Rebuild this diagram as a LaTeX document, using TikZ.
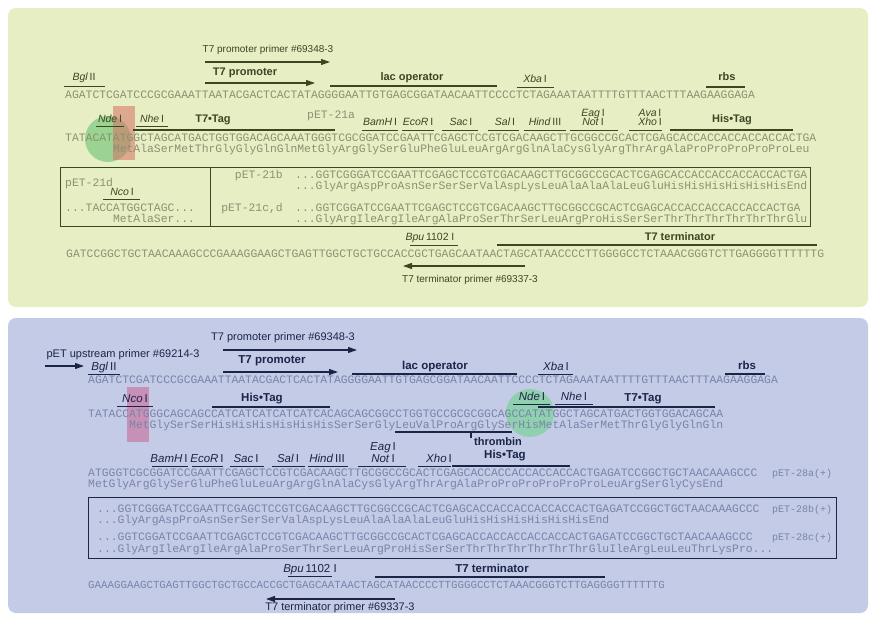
\documentclass[tikz,border=0pt]{standalone}
\usepackage{fontspec}
\setmainfont{Liberation Sans}
\newfontfamily\seqmono{Liberation Mono}
\usetikzlibrary{arrows.meta}
\definecolor{ubg}{HTML}{E8EEC4}
\definecolor{uink}{HTML}{3B4622}
\definecolor{useq}{HTML}{8A9170}
\definecolor{lbg}{HTML}{C4CBE6}
\definecolor{link}{HTML}{1C2448}
\definecolor{lseq}{HTML}{7A84AA}
\definecolor{pinkA}{HTML}{D46F63}
\definecolor{pinkB}{HTML}{C8578A}
\definecolor{mintA}{HTML}{5DBF6A}
\definecolor{mintB}{HTML}{6CD48A}
\newcommand{\seqsize}{\seqmono\fontsize{11.38}{12}\selectfont}
\newcommand{\enzy}[2]{\textit{#1}\,#2}

\begin{document}
\begin{tikzpicture}[x=1pt, y=-1pt,
  seq/.style={font=\seqsize, anchor=mid west, inner sep=0pt},
  lab/.style={font=\fontsize{10}{12}\selectfont, anchor=mid, inner sep=0pt},
  tag/.style={font=\fontsize{11}{13}\selectfont\bfseries, anchor=mid, inner sep=0pt},
  enz/.style={font=\fontsize{10.5}{12}\selectfont, anchor=mid, inner sep=0pt},
  feat/.style={line width=1.6pt},
  cut/.style={line width=0.9pt},
  primer/.style={line width=1.1pt, -{Triangle[length=9pt, width=6pt]}}]

\useasboundingbox (0,0) rectangle (870,621);

% Panels
\fill[ubg, rounded corners=8pt] (8,8) rectangle (868,307);
\fill[lbg, rounded corners=8pt] (8,318) rectangle (868,613);

% ============================================================
% Upper panel: pET-21
% ============================================================
\def\ux{65}
\def\cw{6.83}

% start codon highlights
\fill[mintA, opacity=0.55] (108,139) circle[radius=23pt];
\fill[pinkA, opacity=0.55] (113,106) rectangle (135,160);

% row 1
\node[lab, text=uink] (uprim) at (268,50) {T7 promoter primer \#69348-3};
\draw[primer, uink] (205,62) -- (330,62);
\node[tag, text=uink] (uprom) at (245,73) {T7 promoter};
\draw[primer, uink] (205,83) -- (315,83);
\node[enz, text=uink] (ubgl) at (84,78) {\enzy{Bgl}{II}};
\draw[cut, uink] (64,86) -- (105,86);
\node[tag, text=uink] (ulac) at (412,78) {lac operator};
\draw[feat, uink] (330,86) -- (497,86);
\node[enz, text=uink] (uxba) at (535,80) {\enzy{Xba}{I}};
\draw[cut, uink] (517,87) -- (554,87);
\node[tag, text=uink] (urbs) at (727,78) {rbs};
\draw[feat, uink] (706,87) -- (745,87);
\node[seq, text=useq] (us1) at (\ux,96) {AGATCTCGATCCCGCGAAATTAATACGACTCACTATAGGGGAATTGTGAGCGGATAACAATTCCCCTCTAGAAATAATTTTGTTTAACTTTAAGAAGGAGA};

% row 2
\node[enz, text=uink] (unde) at (110,120) {\enzy{Nde}{I}};
\draw[cut, uink] (96,126) -- (124,126);
\node[enz, text=uink] (unhe) at (152,120) {\enzy{Nhe}{I}};
\draw[cut, uink] (136,126) -- (168,126);
\node[tag, text=uink] (ut7) at (213,120) {T7•Tag};
\draw[feat, uink] (133,130) -- (335,130);
\node[seq, text=useq] (u21a) at (307,116) {pET-21a};
\foreach \id/\nm/\xc/\xa/\xb in {bam/{\enzy{BamH}{I}}/380/362/398, eco/{\enzy{EcoR}{I}}/418/402/434,
    sac/{\enzy{Sac}{I}}/461/442/478, sal/{\enzy{Sal}{I}}/505/488/519, hind/{\enzy{Hind}{III}}/545/524/566} {
  \node[enz, text=uink] (u\id) at (\xc,123) {\nm};
  \draw[cut, uink] (\xa,130) -- (\xb,130);
}
\node[enz, text=uink] (ueag) at (593,114) {\enzy{Eag}{I}};
\node[enz, text=uink] (unot) at (593,123) {\enzy{Not}{I}};
\draw[cut, uink] (570,130) -- (618,130);
\node[enz, text=uink] (uava) at (650,114) {\enzy{Ava}{I}};
\node[enz, text=uink] (uxho) at (650,123) {\enzy{Xho}{I}};
\draw[cut, uink] (629,130) -- (662,130);
\node[tag, text=uink] (uhis) at (732,120) {His•Tag};
\draw[feat, uink] (670,130) -- (793,130);
\node[seq, text=useq] (us2) at (\ux,139) {TATACATATGGCTAGCATGACTGGTGGACAGCAAATGGGTCGCGGATCCGAATTCGAGCTCCGTCGACAAGCTTGCGGCCGCACTCGAGCACCACCACCACCACCACTGA};
\node[seq, text=useq] (up2) at ({\ux+7*\cw},150) {MetAlaSerMetThrGlyGlyGlnGlnMetGlyArgGlySerGluPheGluLeuArgArgGlnAlaCysGlyArgThrArgAlaProProProProProLeu};

% variants box
\draw[uink, line width=1pt] (60,167) rectangle (810,226);
\draw[uink, line width=1pt] (210,167) -- (210,226);
\node[seq, text=useq] (u21d) at (65,184) {pET-21d};
\node[enz, text=uink] (unco) at (122,193) {\enzy{Nco}{I}};
\draw[cut, uink] (103,199) -- (140,199);
\node[seq, text=useq] (uds) at (65,209) {...TACCATGGCTAGC...};
\node[seq, text=useq] (udp) at ({65+7*\cw},220) {MetAlaSer...};
\node[seq, text=useq, anchor=mid east] (u21b) at (283,176) {pET-21b};
\node[seq, text=useq] (ubs) at (295,176) {...GGTCGGGATCCGAATTCGAGCTCCGTCGACAAGCTTGCGGCCGCACTCGAGCACCACCACCACCACCACTGA};
\node[seq, text=useq] (ubp) at (295,187) {...GlyArgAspProAsnSerSerSerValAspLysLeuAlaAlaAlaLeuGluHisHisHisHisHisHisEnd};
\node[seq, text=useq, anchor=mid east] (u21c) at (283,209) {pET-21c,d};
\node[seq, text=useq] (ucs) at (295,209) {...GGTCGGATCCGAATTCGAGCTCCGTCGACAAGCTTGCGGCCGCACTCGAGCACCACCACCACCACCACTGA};
\node[seq, text=useq] (ucp) at (295,220) {...GlyArgIleArgIleArgAlaProSerThrSerLeuArgProHisSerSerThrThrThrThrThrThrGlu};

% row 3
\node[enz, text=uink] (ubpu) at (430,238) {\enzy{Bpu}{1102 I}};
\draw[cut, uink] (410,245) -- (458,245);
\node[tag, text=uink] (uterm) at (680,238) {T7 terminator};
\draw[feat, uink] (497,245) -- (817,245);
\node[seq, text=useq] (us3) at (66,255) {GATCCGGCTGCTAACAAAGCCCGAAAGGAAGCTGAGTTGGCTGCTGCCACCGCTGAGCAATAACTAGCATAACCCCTTGGGGCCTCTAAACGGGTCTTGAGGGGTTTTTTG};
\draw[primer, uink] (525,266) -- (403,266);
\node[lab, text=uink] (utprim) at (470,280) {T7 terminator primer \#69337-3};

% ============================================================
% Lower panel: pET-28
% ============================================================
\def\lx{88}

% start codon highlights
\fill[mintB, opacity=0.6] (530,413) circle[radius=24pt];
\fill[pinkB, opacity=0.5] (127,387) rectangle (149,442);

% row 1
\node[lab, text=link, font=\fontsize{11}{13}\selectfont] (lprim) at (283,338) {T7 promoter primer \#69348-3};
\draw[primer, link] (223,350) -- (357,350);
\node[lab, text=link, font=\fontsize{11}{13}\selectfont] (lup) at (123,355) {pET upstream primer \#69214-3};
\draw[primer, link] (45,366) -- (84,366);
\node[tag, text=link, font=\fontsize{11.5}{13}\selectfont\bfseries] (lprom) at (272,361) {T7 promoter};
\draw[primer, link] (223,372) -- (338,372);
\node[enz, text=link, font=\fontsize{11.5}{13}\selectfont] (lbgl) at (104,368) {\enzy{Bgl}{II}};
\draw[cut, link] (88,374) -- (120,374);
\node[tag, text=link, font=\fontsize{11.5}{13}\selectfont\bfseries] (llac) at (435,367) {lac operator};
\draw[feat, link] (352,374) -- (517,374);
\node[enz, text=link, font=\fontsize{11.5}{13}\selectfont] (lxba) at (556,368) {\enzy{Xba}{I}};
\draw[cut, link] (538,374) -- (573,374);
\node[tag, text=link, font=\fontsize{11.5}{13}\selectfont\bfseries] (lrbs) at (747,367) {rbs};
\draw[feat, link] (725,374) -- (765,374);
\node[seq, text=lseq] (ls1) at (\lx,381) {AGATCTCGATCCCGCGAAATTAATACGACTCACTATAGGGGAATTGTGAGCGGATAACAATTCCCCTCTAGAAATAATTTTGTTTAACTTTAAGAAGGAGA};

% row 2
\node[enz, text=link, font=\fontsize{11.5}{13}\selectfont] (lnco) at (135,400) {\enzy{Nco}{I}};
\draw[cut, link] (117,406) -- (153,406);
\node[tag, text=link, font=\fontsize{11.5}{13}\selectfont\bfseries] (lhis1) at (262,399) {His•Tag};
\draw[feat, link] (212,407) -- (330,407);
\node[enz, text=link, font=\fontsize{11.5}{13}\selectfont] (lnde) at (532,398) {\enzy{Nde}{I}};
\draw[cut, link] (513,404) -- (550,404);
\node[enz, text=link, font=\fontsize{11.5}{13}\selectfont] (lnhe) at (574,398) {\enzy{Nhe}{I}};
\draw[cut, link] (555,404) -- (593,404);
\node[tag, text=link, font=\fontsize{11.5}{13}\selectfont\bfseries] (lt7) at (643,399) {T7•Tag};
\draw[feat, link] (538,407) -- (715,407);
\node[seq, text=lseq] (ls2) at (\lx,415) {TATACCATGGGCAGCAGCCATCATCATCATCATCACAGCAGCGGCCTGGTGCCGCGCGGCAGCCATATGGCTAGCATGACTGGTGGACAGCAA};
\node[seq, text=lseq] (lp2) at ({\lx+6*\cw},426) {MetGlySerSerHisHisHisHisHisHisSerSerGlyLeuValProArgGlySerHisMetAlaSerMetThrGlyGlyGlnGln};
\draw[feat, link] (395,432) -- (512,432);
\draw[feat, link] (471,432) -- (471,438);
\node[tag, text=link, anchor=mid west] (lthr) at (474,443) {thrombin};

% row 3
\foreach \id/\nm/\xc/\xa/\xb in {bam/{\enzy{BamH}{I}}/169/152/188, eco/{\enzy{EcoR}{I}}/207/192/223,
    sac/{\enzy{Sac}{I}}/246/230/264, sal/{\enzy{Sal}{I}}/288/272/305, hind/{\enzy{Hind}{III}}/327/308/348} {
  \node[enz, text=link, font=\fontsize{11.5}{13}\selectfont] (l\id) at (\xc,460) {\nm};
  \draw[cut, link] (\xa,466) -- (\xb,466);
}
\node[enz, text=link, font=\fontsize{11.5}{13}\selectfont] (leag) at (383,448) {\enzy{Eag}{I}};
\node[enz, text=link, font=\fontsize{11.5}{13}\selectfont] (lnot) at (383,460) {\enzy{Not}{I}};
\draw[cut, link] (358,466) -- (406,466);
\node[enz, text=link, font=\fontsize{11.5}{13}\selectfont] (lxho) at (439,460) {\enzy{Xho}{I}};
\draw[cut, link] (418,466) -- (451,466);
\node[tag, text=link, font=\fontsize{11.5}{13}\selectfont\bfseries] (lhis2) at (505,456) {His•Tag};
\draw[feat, link] (452,466) -- (570,466);
\node[seq, text=lseq] (ls3) at (\lx,474) {ATGGGTCGCGGATCCGAATTCGAGCTCCGTCGACAAGCTTGCGGCCGCACTCGAGCACCACCACCACCACCACTGAGATCCGGCTGCTAACAAAGCCC};
\node[seq, text=lseq] (lp3) at (\lx,485) {MetGlyArgGlySerGluPheGluLeuArgArgGlnAlaCysGlyArgThrArgAlaProProProProProProLeuArgSerGlyCysEnd};
\node[seq, text=lseq, font=\seqmono\fontsize{10}{11}\selectfont] (l28a) at (772,474) {pET-28a(+)};

% variants box
\draw[link, line width=1pt] (88,497) rectangle (836,558);
\node[seq, text=lseq] (lbs) at (97,510) {...GGTCGGGATCCGAATTCGAGCTCCGTCGACAAGCTTGCGGCCGCACTCGAGCACCACCACCACCACCACTGAGATCCGGCTGCTAACAAAGCCC};
\node[seq, text=lseq, font=\seqmono\fontsize{10}{11}\selectfont] (l28b) at (772,510) {pET-28b(+)};
\node[seq, text=lseq] (lbp) at (97,521) {...GlyArgAspProAsnSerSerSerValAspLysLeuAlaAlaAlaLeuGluHisHisHisHisHisHisEnd};
\node[seq, text=lseq] (lcs) at (97,538) {...GGTCGGATCCGAATTCGAGCTCCGTCGACAAGCTTGCGGCCGCACTCGAGCACCACCACCACCACCACTGAGATCCGGCTGCTAACAAAGCCC};
\node[seq, text=lseq, font=\seqmono\fontsize{10}{11}\selectfont] (l28c) at (772,538) {pET-28c(+)};
\node[seq, text=lseq] (lcp) at (97,550) {...GlyArgIleArgIleArgAlaProSerThrSerLeuArgProHisSerSerThrThrThrThrThrThrGluIleArgLeuLeuThrLysPro...};

% row 4
\node[enz, text=link, font=\fontsize{11.5}{13}\selectfont] (lbpu) at (310,570) {\enzy{Bpu}{1102 I}};
\draw[cut, link] (288,576) -- (332,576);
\node[tag, text=link, font=\fontsize{11.5}{13}\selectfont\bfseries] (lterm) at (492,570) {T7 terminator};
\draw[feat, link] (375,577) -- (605,577);
\node[seq, text=lseq, font=\seqmono\fontsize{10.8}{12}\selectfont] (ls4) at (\lx,586) {GAAAGGAAGCTGAGTTGGCTGCTGCCACCGCTGAGCAATAACTAGCATAACCCCTTGGGGCCTCTAAACGGGTCTTGAGGGGTTTTTTG};
\draw[primer, link] (395,599) -- (266,599);
\node[lab, text=link, font=\fontsize{11}{13}\selectfont] (ltprim) at (340,608) {T7 terminator primer \#69337-3};

\end{tikzpicture}
\end{document}
